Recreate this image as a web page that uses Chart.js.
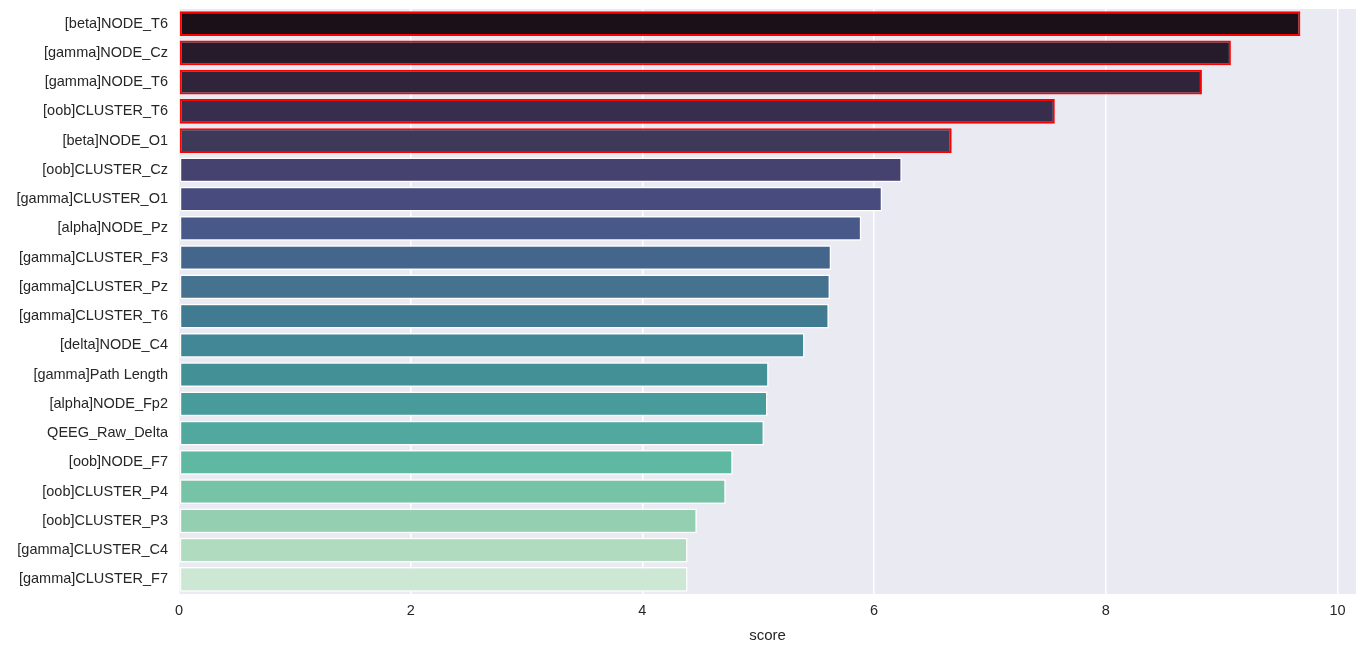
<!DOCTYPE html>
<html>
<head>
<meta charset="utf-8">
<script src="https://cdn.jsdelivr.net/npm/chart.js@4"></script>
<style>
html,body{margin:0;padding:0;background:#fff;}
#wrap{width:1368px;height:645px;position:relative;}
</style>
</head>
<body>
<div id="wrap"><canvas id="c" width="1368" height="645"></canvas></div>
<script>
const categories = [
  "[beta]NODE_T6", "[gamma]NODE_Cz", "[gamma]NODE_T6", "[oob]CLUSTER_T6", "[beta]NODE_O1",
  "[oob]CLUSTER_Cz", "[gamma]CLUSTER_O1", "[alpha]NODE_Pz", "[gamma]CLUSTER_F3", "[gamma]CLUSTER_Pz",
  "[gamma]CLUSTER_T6", "[delta]NODE_C4", "[gamma]Path Length", "[alpha]NODE_Fp2", "QEEG_Raw_Delta",
  "[oob]NODE_F7", "[oob]CLUSTER_P4", "[oob]CLUSTER_P3", "[gamma]CLUSTER_C4", "[gamma]CLUSTER_F7"
];
const scores = [9.68, 9.08, 8.83, 7.56, 6.67, 6.24, 6.07, 5.89, 5.63, 5.62,
                5.61, 5.40, 5.09, 5.08, 5.05, 4.78, 4.72, 4.47, 4.39, 4.39];
const highlighted = [true, true, true, true, true, false, false, false, false, false,
                     false, false, false, false, false, false, false, false, false, false];
const xTicks = [0, 2, 4, 6, 8, 10];
const xTitle = "score";

const palette = ["#1b1018", "#261b2b", "#2f243a", "#382d4d", "#3e3859", "#46426f", "#474b7d",
                 "#485888", "#45668c", "#44728f", "#417b92", "#418795", "#439096", "#479b9b",
                 "#51a89f", "#5eb8a2", "#76c3a8", "#95cfb1", "#b1dbbf", "#cce7d4"];

const bgPlugin = {
  id: 'plotBg',
  beforeDraw(chart) {
    const {ctx, chartArea: a} = chart;
    ctx.save();
    ctx.fillStyle = '#eaeaf2';
    ctx.fillRect(a.left, a.top, a.right - a.left, a.bottom - a.top);
    ctx.restore();
  }
};

new Chart(document.getElementById('c'), {
  type: 'bar',
  data: {
    labels: categories,
    datasets: [{
      data: scores,
      backgroundColor: palette,
      borderColor: highlighted.map(h => h ? '#ff0000' : '#ffffff'),
      borderWidth: highlighted.map(h => h ? 2 : 1.5),
      borderSkipped: false,
      barPercentage: 0.85,
      categoryPercentage: 1.0
    }]
  },
  options: {
    indexAxis: 'y',
    responsive: false,
    animation: false,
    devicePixelRatio: 1,
    layout: {padding: {top: 9, right: 12, left: 0, bottom: 0}},
    plugins: {legend: {display: false}, tooltip: {enabled: false}},
    scales: {
      x: {
        type: 'linear',
        min: 0,
        max: 10.16,
        afterBuildTicks(axis) { axis.ticks = xTicks.map(v => ({value: v})); },
        afterFit(axis) { axis.height = 51; axis.paddingLeft = 0; axis.paddingRight = 0; },
        grid: {color: '#ffffff', lineWidth: 1.5, drawTicks: false},
        border: {display: false},
        ticks: {color: '#262626', font: {family: 'Liberation Sans, Arial', size: 14.5}, padding: 8},
        title: {display: true, text: xTitle, color: '#262626',
                font: {family: 'Liberation Sans, Arial', size: 15}, padding: {top: 1, bottom: 0}}
      },
      y: {
        afterFit(axis) { axis.width = 179; axis.paddingTop = 0; axis.paddingBottom = 0; },
        grid: {display: false, drawTicks: false},
        border: {display: false},
        ticks: {color: '#262626', font: {family: 'Liberation Sans, Arial', size: 14.5}, padding: 11, autoSkip: false}
      }
    }
  },
  plugins: [bgPlugin]
});
</script>
</body>
</html>
